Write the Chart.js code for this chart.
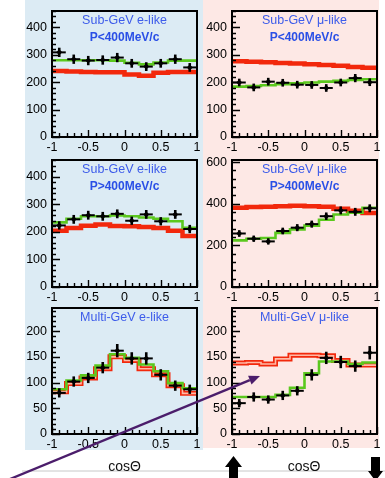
<!DOCTYPE html>
<html>
<head>
<meta charset="utf-8">
<script src="https://cdn.jsdelivr.net/npm/chart.js@4.4.1/dist/chart.umd.min.js"></script>
<style>
  html, body { margin: 0; padding: 0; background: #fff; }
  body { width: 385px; height: 478px; position: relative; overflow: hidden;
         font-family: "Liberation Sans", Arial, sans-serif; }
  .bg { position: absolute; }
  canvas { position: absolute; }
  .ttl { position: absolute; color: #3d5cea; font-size: 12.5px; line-height: 1;
         white-space: nowrap; transform: translate(-50%, -50%); }
  .ttl.b { font-weight: bold; color: #2a4fe6; font-size: 12px; }
  .axt { position: absolute; font-size: 14px; line-height: 1; color: #111;
         transform: translate(-50%, -50%); white-space: nowrap; }
  svg { position: absolute; left: 0; top: 0; }
</style>
</head>
<body>
<div class="bg" style="left:25px;top:0;width:178px;height:450px;background:#dcebf4;"></div>
<div class="bg" style="left:203px;top:0;width:176px;height:448px;background:#fde8e5;"></div>

<svg id="under" width="385" height="478">
  <line x1="22" y1="471" x2="385" y2="471" stroke="#c8c8c8" stroke-width="1"/>
  <polygon points="233.5,456 242,467 238,467 238,478 229,478 229,467 225,467" fill="#000"/>
  <polygon points="371,457 380,457 380,471 383,471 375.5,481 368,471 371,471" fill="#000"/>
</svg>

<script>
// Zenith-angle binning (cos theta), shared by every panel
const binEdges   = [-1, -0.8, -0.6, -0.4, -0.2, 0, 0.2, 0.4, 0.6, 0.8, 1];
const binCenters = [-0.9, -0.7, -0.5, -0.3, -0.1, 0.1, 0.3, 0.5, 0.7, 0.9];
const xTickValues = [-1, -0.5, 0, 0.5, 1];

// Sub-GeV e-like, P<400MeV/c
const subGevELowObs    = [309, 284, 279, 281, 290, 269, 257, 269, 284, 254];
const subGevELowErr    = [17, 17, 17, 17, 17, 16, 16, 16, 17, 16];
const subGevELowOsc    = [280, 280, 280, 280, 279, 271, 265, 272, 279, 279];
const subGevELowNoOsc  = [241, 239, 237, 236, 236, 228, 224, 235, 237, 237];

// Sub-GeV mu-like, P<400MeV/c
const subGevMuLowObs   = [199, 181, 202, 198, 191, 190, 179, 199, 215, 200];
const subGevMuLowErr   = [14, 14, 14, 14, 14, 14, 14, 14, 15, 14];
const subGevMuLowOsc   = [184, 186, 189, 193, 196, 199, 202, 205, 208, 211];
const subGevMuLowNoOsc = [277, 275, 273, 270, 268, 266, 263, 260, 256, 253];

// Sub-GeV e-like, P>400MeV/c
const subGevEHighObs    = [223, 245, 260, 256, 265, 240, 263, 238, 263, 210];
const subGevEHighErr    = [15, 16, 16, 16, 16, 15, 16, 15, 16, 15];
const subGevEHighOsc    = [234, 247, 256, 256, 259, 256, 252, 247, 238, 214];
const subGevEHighNoOsc  = [204, 214, 222, 226, 221, 220, 217, 214, 204, 185];

// Sub-GeV mu-like, P>400MeV/c
const subGevMuHighObs   = [257, 232, 219, 269, 285, 302, 340, 368, 361, 378];
const subGevMuHighErr   = [16, 15, 15, 16, 17, 17, 18, 19, 19, 19];
const subGevMuHighOsc   = [224, 232, 235, 260, 277, 295, 323, 348, 357, 381];
const subGevMuHighNoOsc = [381, 384, 385, 388, 390, 388, 385, 376, 366, 355];

// Multi-GeV e-like
const multiGevEObs     = [80, 102, 109, 129, 162, 147, 147, 115, 94, 87];
const multiGevEErr     = [9, 10, 10, 11, 13, 12, 12, 11, 10, 9];
const multiGevEOsc     = [87, 104, 114, 133, 155, 148, 135, 122, 99, 89];
const multiGevENoOsc   = [82, 98, 109, 127, 150, 143, 127, 115, 94, 79];

// Multi-GeV mu-like
const multiGevMuObs    = [60, 72, 67, 75, 84, 115, 148, 140, 132, 158];
const multiGevMuErr    = [8, 9, 8, 9, 9, 11, 12, 12, 11, 13];
const multiGevMuOsc    = [72, 72, 72, 76, 90, 118, 141, 141, 136, 139];
const multiGevMuNoOsc  = [138, 139, 136, 146, 153, 153, 152, 143, 134, 134];

// Y-axis labels per row
const yTicksSubGev      = [0, 100, 200, 300, 400];
const yTicksSubGevMuHi  = [0, 200, 400, 600];
const yTicksMultiGev    = [0, 50, 100, 150, 200];

const FONT = '"Liberation Sans", Arial, sans-serif';
const GREEN = '#5bc81e';
const RED = '#f2280c';

// Plot-area frames: [left, right, canvasLeft, canvasRight] per column, [top, bottom] per row
const cols = [[52, 197, 25, 203], [232, 377, 203, 385]];
const rows = [[11, 137], [160, 287], [308, 434]];

const panels = [
  { col: 0, row: 0, title: ['Sub-GeV e-like', 'P<400MeV/c'], yMax: 460, yTicks: yTicksSubGev, minor: 20,
    obs: subGevELowObs, err: subGevELowErr, osc: subGevELowOsc, noOsc: subGevELowNoOsc, band: false },
  { col: 1, row: 0, title: ['Sub-GeV \u03bc-like', 'P<400MeV/c'], yMax: 460, yTicks: yTicksSubGev, minor: 20,
    obs: subGevMuLowObs, err: subGevMuLowErr, osc: subGevMuLowOsc, noOsc: subGevMuLowNoOsc, band: false },
  { col: 0, row: 1, title: ['Sub-GeV e-like', 'P>400MeV/c'], yMax: 460, yTicks: yTicksSubGev, minor: 20,
    obs: subGevEHighObs, err: subGevEHighErr, osc: subGevEHighOsc, noOsc: subGevEHighNoOsc, band: false },
  { col: 1, row: 1, title: ['Sub-GeV \u03bc-like', 'P>400MeV/c'], yMax: 610, yTicks: yTicksSubGevMuHi, minor: 40,
    obs: subGevMuHighObs, err: subGevMuHighErr, osc: subGevMuHighOsc, noOsc: subGevMuHighNoOsc, band: false },
  { col: 0, row: 2, title: ['Multi-GeV e-like'], yMax: 245, yTicks: yTicksMultiGev, minor: 10,
    obs: multiGevEObs, err: multiGevEErr, osc: multiGevEOsc, noOsc: multiGevENoOsc, band: true },
  { col: 1, row: 2, title: ['Multi-GeV \u03bc-like'], yMax: 245, yTicks: yTicksMultiGev, minor: 10,
    obs: multiGevMuObs, err: multiGevMuErr, osc: multiGevMuOsc, noOsc: multiGevMuNoOsc, band: true }
];

// Histogram outline: one point per lower bin edge, plus the closing edge
function histPoints(values) {
  return binEdges.map((x, i) => ({ x, y: values[Math.min(i, values.length - 1)] }));
}

// Error bars, inward ticks and the plot frame
function panelDecor(p) {
  return {
    id: 'panelDecor',
    afterDatasetsDraw(chart) {
      const { ctx, chartArea: a, scales: { x, y } } = chart;
      ctx.save();
      ctx.beginPath();
      ctx.rect(a.left, a.top, a.width, a.height);
      ctx.clip();
      ctx.strokeStyle = '#000';
      p.obs.forEach((v, i) => {
        const c = binCenters[i];
        const py = y.getPixelForValue(v);
        ctx.lineWidth = 2;
        ctx.beginPath();
        ctx.moveTo(x.getPixelForValue(c - 0.09), py);
        ctx.lineTo(x.getPixelForValue(c + 0.09), py);
        ctx.stroke();
        ctx.lineWidth = 2.6;
        ctx.beginPath();
        ctx.moveTo(x.getPixelForValue(c), y.getPixelForValue(v - p.err[i]));
        ctx.lineTo(x.getPixelForValue(c), y.getPixelForValue(v + p.err[i]));
        ctx.stroke();
      });
      ctx.restore();

      ctx.save();
      ctx.strokeStyle = '#000';
      ctx.lineWidth = 1.4;
      ctx.beginPath();
      const major = p.yTicks[1] - p.yTicks[0];
      for (let k = 0; k * p.minor <= p.yMax; k++) {
        const v = k * p.minor;
        const len = (v % major === 0) ? 8 : 4;
        const py = Math.round(y.getPixelForValue(v)) + 0.5;
        ctx.moveTo(a.left, py);
        ctx.lineTo(a.left + len, py);
      }
      for (let k = 0; k <= 20; k++) {
        const v = -1 + k * 0.1;
        const len = (k % 5 === 0) ? 7 : 4;
        const px = Math.round(x.getPixelForValue(v)) + 0.5;
        ctx.moveTo(px, a.bottom);
        ctx.lineTo(px, a.bottom - len);
      }
      ctx.stroke();
      ctx.lineWidth = 2;
      ctx.strokeRect(a.left, a.top, a.width, a.height);
      ctx.restore();
    }
  };
}

panels.forEach(p => {
  const [pl, pr, cl, cr] = cols[p.col];
  const [pt, pb] = rows[p.row];
  const padTop = 8, axisH = 20;
  const W = cr - cl, H = (pb - pt) + padTop + axisH;
  const cv = document.createElement('canvas');
  cv.width = W; cv.height = H;
  cv.style.left = cl + 'px'; cv.style.top = (pt - padTop) + 'px';
  cv.style.width = W + 'px'; cv.style.height = H + 'px';
  document.body.appendChild(cv);

  const datasets = [
    { type: 'scatter', data: binCenters.map((x, i) => ({ x, y: p.obs[i] })),
      pointStyle: 'rectRot', pointRadius: 3, backgroundColor: '#000', borderColor: '#000',
      borderWidth: 0, order: 0 },
    { type: 'line', data: histPoints(p.osc), stepped: true, borderColor: GREEN,
      borderWidth: 2.6, pointRadius: 0, fill: false, order: 1 },
  ];
  if (p.band) {
    datasets.push({ type: 'line', data: histPoints(p.noOsc), stepped: true, borderColor: '#ffb9a6',
      borderWidth: 1.6, pointRadius: 0, fill: false, order: 2 });
    datasets.push({ type: 'line', data: histPoints(p.noOsc), stepped: true, borderColor: RED,
      borderWidth: 5, pointRadius: 0, fill: false, order: 3 });
  } else {
    datasets.push({ type: 'line', data: histPoints(p.noOsc), stepped: true, borderColor: RED,
      borderWidth: 4.5, pointRadius: 0, fill: false, order: 3 });
  }

  new Chart(cv, {
    data: { datasets },
    options: {
      responsive: false, animation: false, devicePixelRatio: 1,
      layout: { padding: { top: padTop, right: cr - pr, left: 0, bottom: 0 } },
      plugins: { legend: { display: false }, tooltip: { enabled: false }, title: { display: false } },
      scales: {
        x: {
          type: 'linear', min: -1, max: 1,
          grid: { display: false, drawTicks: false }, border: { display: false },
          afterBuildTicks: s => { s.ticks = xTickValues.map(v => ({ value: v })); },
          afterFit: s => { s.height = axisH; s.paddingLeft = 0; s.paddingRight = 0; },
          ticks: { padding: 3, color: '#000', autoSkip: false, maxRotation: 0,
                   font: { family: FONT, size: 12.5 }, callback: v => String(v) }
        },
        y: {
          type: 'linear', min: 0, max: p.yMax,
          grid: { display: false, drawTicks: false }, border: { display: false },
          afterBuildTicks: s => { s.ticks = p.yTicks.map(v => ({ value: v })); },
          afterFit: s => { s.width = pl - cl; s.paddingTop = 0; s.paddingBottom = 0; },
          ticks: { padding: 5, color: '#000', autoSkip: false,
                   font: { family: FONT, size: 12.5 }, callback: v => String(v) }
        }
      }
    },
    plugins: [panelDecor(p)]
  });

  const cx = (pl + pr) / 2;
  const t1 = document.createElement('div');
  t1.className = 'ttl';
  t1.textContent = p.title[0];
  t1.style.left = cx + 'px'; t1.style.top = (pt + 8.5) + 'px';
  document.body.appendChild(t1);
  if (p.title[1]) {
    const t2 = document.createElement('div');
    t2.className = 'ttl b';
    t2.textContent = p.title[1];
    t2.style.left = cx + 'px'; t2.style.top = (pt + 26) + 'px';
    document.body.appendChild(t2);
  }
});

// Axis captions below each column
[[124.5, 'cos\u0398'], [304, 'cos\u0398']].forEach(([x, txt]) => {
  const d = document.createElement('div');
  d.className = 'axt';
  d.textContent = txt;
  d.style.left = x + 'px'; d.style.top = '465.5px';
  document.body.appendChild(d);
});
</script>

<svg id="over" width="385" height="478" style="z-index:5">
  <line x1="10" y1="479" x2="249.8" y2="380.2" stroke="#4b1d6b" stroke-width="2.4"/>
  <polygon points="260,376 251.5,384.6 248.1,375.8" fill="#4b1d6b"/>
</svg>
</body>
</html>
